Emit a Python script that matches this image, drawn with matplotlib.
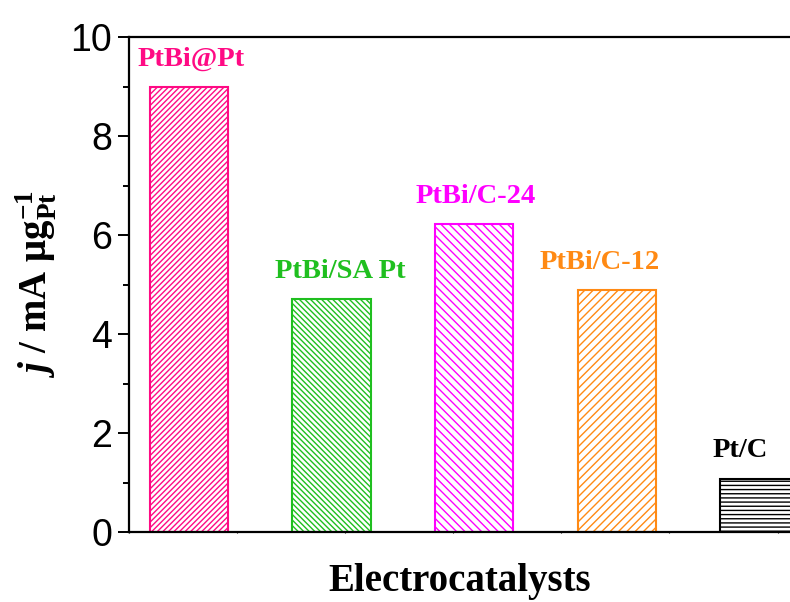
import numpy as np
import matplotlib
matplotlib.use('Agg')
import matplotlib.pyplot as plt

plt.rcParams['mathtext.fontset'] = 'custom'
plt.rcParams['mathtext.rm'] = 'Liberation Serif:bold'
plt.rcParams['mathtext.it'] = 'Liberation Serif:bold:italic'
plt.rcParams['mathtext.bf'] = 'Liberation Serif:bold'
plt.rcParams['hatch.linewidth'] = 1.0

# data
catalysts = ['PtBi@Pt', 'PtBi/SA Pt', 'PtBi/C-24', 'PtBi/C-12', 'Pt/C']
activity = [9.0, 4.7, 6.22, 4.89, 1.08]
colors = ['#FF0A84', '#1FBF1F', '#FF00FF', '#FF8A14', '#000000']
hatches = ['//////', '\\\\\\\\\\\\', '\\\\\\\\', '////', '----']
label_dx = [2, 6, 1, -12, -14]   # label shift in points

fig = plt.figure(figsize=(7.9, 6.02), dpi=100)
ax = fig.add_axes([0.163, 0.116, 0.837, 0.8225])

xs = np.arange(1, len(catalysts) + 1)
for x, v, c, h in zip(xs, activity, colors, hatches):
    ax.bar(x, v, width=0.55, color='none', edgecolor=c, hatch=h, linewidth=1.5)

for x, v, name, c, dx in zip(xs, activity, catalysts, colors, label_dx):
    ax.annotate(name, (x, v), xytext=(dx, 11), textcoords='offset points',
                ha='center', va='bottom', color=c, fontsize=20.5,
                fontweight='bold', family='Liberation Serif')

ax.set_xlim(0.579, 5.214)
ax.set_ylim(0, 10)
ax.set_yticks([0, 2, 4, 6, 8, 10])
ax.set_yticks([1, 3, 5, 7, 9], minor=True)
ax.set_xticks(np.arange(0.579, 5.214, 0.758))
ax.set_xticklabels([])

for s in ['left', 'bottom', 'top']:
    ax.spines[s].set_linewidth(1.6)
ax.spines['right'].set_visible(False)

ax.tick_params(axis='y', which='major', length=8, width=1.4, direction='out',
               labelsize=27, pad=4)
ax.tick_params(axis='y', which='minor', length=4, width=1.4, direction='out')
ax.tick_params(axis='x', which='major', length=2, width=0.8, direction='inout')
for t in ax.get_yticklabels():
    t.set_family('Liberation Sans')

ax.set_xlabel('Electrocatalysts', fontsize=28, fontweight='bold',
              family='Liberation Serif', labelpad=18)
ax.set_ylabel(r'$j$ / mA μg$_{\mathrm{Pt}}^{-1}$', fontsize=28,
              fontweight='bold', family='Liberation Serif', labelpad=8)

fig.savefig('out.png', dpi=100)
